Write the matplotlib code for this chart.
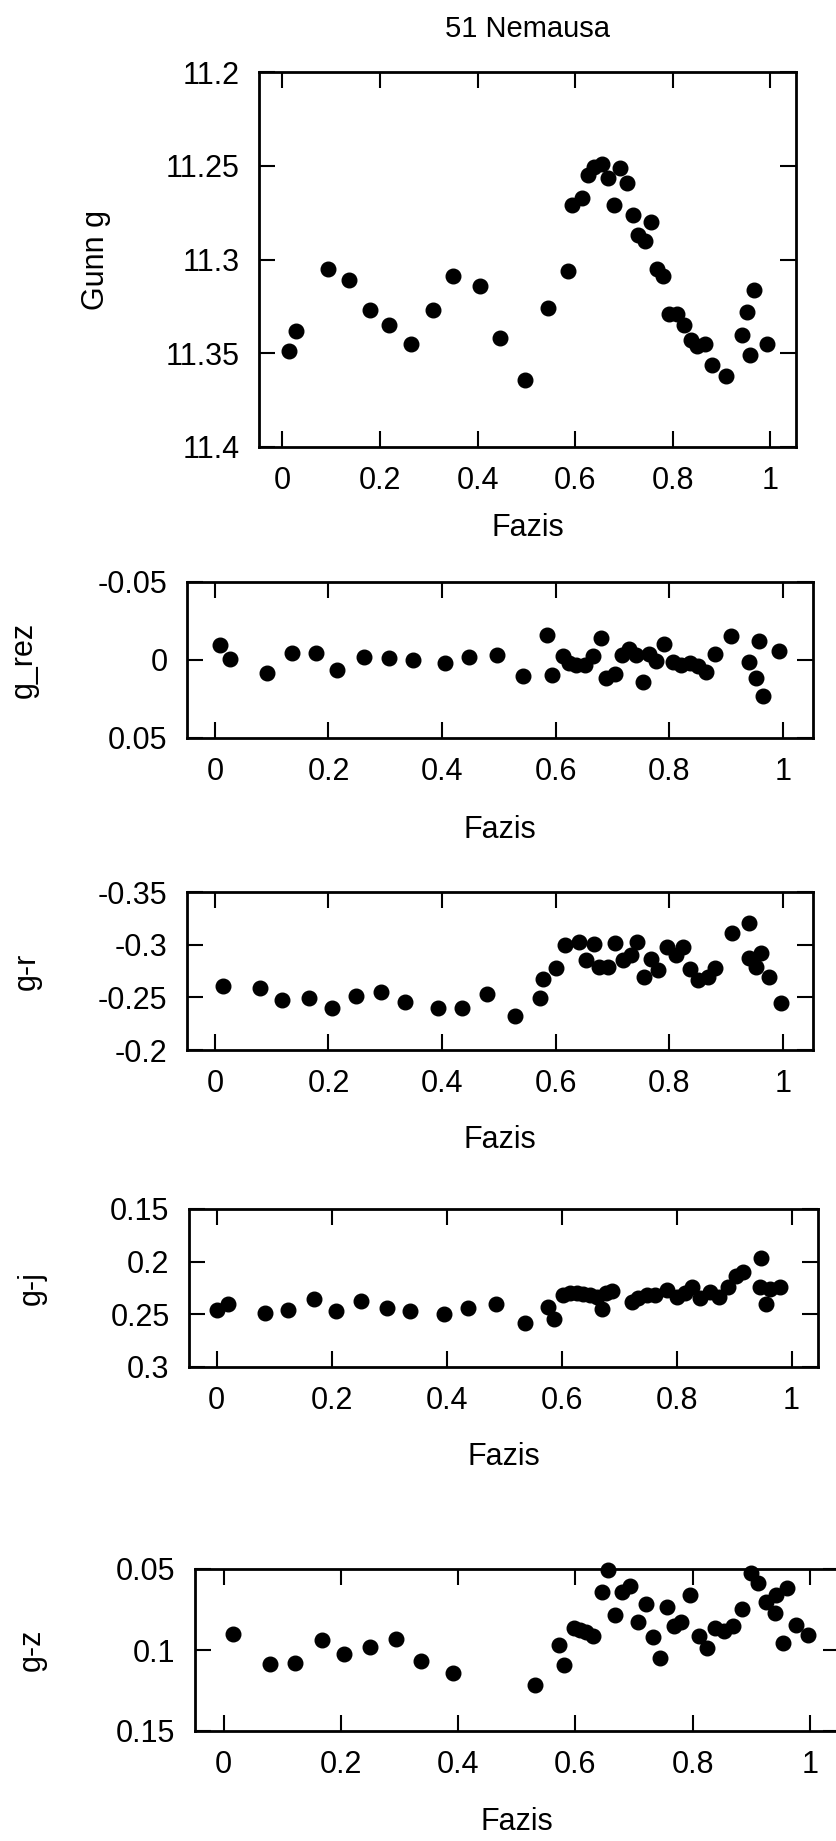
import matplotlib
matplotlib.use("Agg")
import matplotlib.pyplot as plt
from matplotlib.ticker import FuncFormatter

plt.rcParams['font.family'] = ['Liberation Sans', 'DejaVu Sans']
plt.rcParams['axes.unicode_minus'] = False

TITLE = "51 Nemausa"
XLABEL = "Fazis"
XTICKS = [0, 0.2, 0.4, 0.6, 0.8, 1]

# panel 1: Gunn g
gunn_phase = [0.013, 0.027, 0.093, 0.137, 0.180, 0.219, 0.264, 0.308, 0.350, 0.406,
              0.446, 0.498, 0.545, 0.586, 0.594, 0.615, 0.627, 0.639, 0.655, 0.667,
              0.680, 0.692, 0.706, 0.718, 0.730, 0.744, 0.755, 0.768, 0.781, 0.793,
              0.810, 0.824, 0.837, 0.851, 0.867, 0.880, 0.910, 0.942, 0.953, 0.967,
              0.958, 0.994]
gunn_g = [11.349, 11.338, 11.305, 11.311, 11.327, 11.335, 11.345, 11.327, 11.309, 11.314,
          11.342, 11.364, 11.326, 11.306, 11.271, 11.267, 11.255, 11.2505, 11.249, 11.2566,
          11.271, 11.251, 11.259, 11.276, 11.287, 11.290, 11.280, 11.305, 11.309, 11.329,
          11.329, 11.335, 11.343, 11.346, 11.345, 11.356, 11.362, 11.340, 11.328, 11.316,
          11.351, 11.345]

# panel 2: residuals
rez_phase = [0.009, 0.026, 0.091, 0.136, 0.178, 0.215, 0.262, 0.306, 0.349, 0.405,
             0.447, 0.496, 0.542, 0.584, 0.594, 0.613, 0.623, 0.636, 0.651, 0.666,
             0.679, 0.689, 0.705, 0.716, 0.729, 0.741, 0.753, 0.765, 0.777, 0.791,
             0.806, 0.821, 0.836, 0.850, 0.864, 0.880, 0.909, 0.940, 0.958, 0.952,
             0.965, 0.994]
g_rez = [-0.0098, -0.0006, 0.0083, -0.0042, -0.0042, 0.0067, -0.0021, -0.0015, 0.0, 0.002,
         -0.002, -0.003, 0.0105, -0.0158, 0.0094, -0.0027, 0.002, 0.0035, 0.0035, -0.0028,
         -0.014, 0.0115, 0.009, -0.0034, -0.0072, -0.003, 0.0141, -0.0038, 0.0005, -0.0105,
         0.0013, 0.0035, 0.002, 0.004, 0.0077, -0.0038, -0.0151, 0.0013, -0.0124, 0.0115,
         0.0233, -0.0055]

# panel 3: g-r
gr_phase = [0.014, 0.079, 0.119, 0.166, 0.206, 0.248, 0.292, 0.335, 0.393, 0.435,
            0.479, 0.528, 0.572, 0.578, 0.600, 0.616, 0.641, 0.654, 0.667, 0.676,
            0.692, 0.705, 0.718, 0.733, 0.744, 0.755, 0.768, 0.781, 0.796, 0.812,
            0.825, 0.837, 0.850, 0.868, 0.881, 0.910, 0.941, 0.940, 0.952, 0.962,
            0.975, 0.996]
g_r = [-0.261, -0.259, -0.247, -0.249, -0.240, -0.251, -0.255, -0.246, -0.240, -0.240,
       -0.253, -0.2325, -0.249, -0.267, -0.2776, -0.2998, -0.303, -0.2855, -0.3008, -0.279,
       -0.2786, -0.3014, -0.2855, -0.290, -0.303, -0.2696, -0.2865, -0.276, -0.298, -0.290,
       -0.298, -0.277, -0.2665, -0.269, -0.2776, -0.311, -0.3205, -0.2877, -0.279, -0.2925,
       -0.269, -0.245]

# panel 4: g-j
gj_phase = [0.0, 0.019, 0.084, 0.125, 0.170, 0.207, 0.252, 0.296, 0.337, 0.396,
            0.437, 0.486, 0.536, 0.577, 0.587, 0.603, 0.614, 0.626, 0.638, 0.649,
            0.661, 0.671, 0.677, 0.687, 0.722, 0.733, 0.748, 0.762, 0.783, 0.800,
            0.814, 0.826, 0.841, 0.858, 0.874, 0.890, 0.904, 0.916, 0.946, 0.945,
            0.955, 0.962, 0.980]
g_j = [0.246, 0.240, 0.249, 0.246, 0.235, 0.247, 0.237, 0.244, 0.247, 0.250,
       0.244, 0.240, 0.2586, 0.2427, 0.2545, 0.2316, 0.2294, 0.230, 0.2307, 0.2316,
       0.2338, 0.2452, 0.230, 0.2275, 0.238, 0.2348, 0.2316, 0.2316, 0.2269, 0.2338,
       0.230, 0.2243, 0.2348, 0.2285, 0.2338, 0.2243, 0.2135, 0.2094, 0.1967, 0.2237,
       0.240, 0.2262, 0.2243]

# panel 5: g-z
gz_phase = [0.015, 0.0785, 0.121, 0.168, 0.205, 0.249, 0.294, 0.336, 0.392, 0.531,
            0.573, 0.580, 0.598, 0.608, 0.619, 0.630, 0.645, 0.656, 0.668, 0.680,
            0.694, 0.707, 0.720, 0.732, 0.744, 0.757, 0.768, 0.781, 0.796, 0.811,
            0.825, 0.838, 0.853, 0.869, 0.884, 0.899, 0.912, 0.926, 0.940, 0.943,
            0.961, 0.954, 0.976, 0.997]
g_z = [0.0901, 0.1089, 0.1079, 0.0938, 0.1027, 0.0984, 0.0932, 0.1069, 0.1139, 0.1213,
       0.0969, 0.1093, 0.0866, 0.0876, 0.0887, 0.0913, 0.0645, 0.0504, 0.0783, 0.0639,
       0.0608, 0.0825, 0.0715, 0.0922, 0.1052, 0.0732, 0.0852, 0.0825, 0.0659, 0.0913,
       0.099, 0.0866, 0.088, 0.0852, 0.0748, 0.0525, 0.0587, 0.0701, 0.0773, 0.0659,
       0.0618, 0.0955, 0.0845, 0.0907]

W, H = 836, 1841
fig = plt.figure(figsize=(W / 100, H / 100), dpi=100)

fmt = FuncFormatter(lambda v, pos: "%g" % round(v, 6))


def make_panel(rect, xlim, ylim, yticks, ylabel, ylabel_x, xlabel_y, xs, ys):
    # rect in pixels: left, top, right, bottom
    l, t, r, b = rect
    ax = fig.add_axes([l / W, 1 - b / H, (r - l) / W, (b - t) / H])
    ax.plot(xs, ys, 'o', color='black', markersize=10.5, clip_on=False)
    ax.set_xlim(xlim)
    ax.set_ylim(ylim)
    ax.set_xticks(XTICKS)
    ax.set_yticks(yticks)
    ax.xaxis.set_major_formatter(fmt)
    ax.yaxis.set_major_formatter(fmt)
    ax.tick_params(direction='in', length=11.5, width=1.5, labelsize=22,
                   pad=14, top=True, right=True)
    for s in ax.spines.values():
        s.set_linewidth(2)
    ax.set_ylabel(ylabel, fontsize=22)
    ax.yaxis.set_label_coords((ylabel_x - l) / (r - l), 0.5)
    ax.yaxis.label.set_va('center')
    ax.set_xlabel(XLABEL, fontsize=22)
    ax.xaxis.set_label_coords(((l + r) / 2 - l) / (r - l), -(xlabel_y - b) / (b - t))
    ax.xaxis.label.set_va('center')
    return ax


ax1 = make_panel((259, 72, 796, 447), (-0.048, 1.053), (11.4, 11.2),
                 [11.2, 11.25, 11.3, 11.35, 11.4], "Gunn g", 96, 528,
                 gunn_phase, gunn_g)
ax1.set_title(TITLE, fontsize=21, pad=25)

make_panel((187, 582, 813, 738), (-0.049, 1.053), (0.05, -0.05),
           [-0.05, 0, 0.05], "g_rez", 24, 830, rez_phase, g_rez)

make_panel((187, 892, 813, 1050), (-0.049, 1.053), (-0.2, -0.35),
           [-0.35, -0.3, -0.25, -0.2], "g-r", 27, 1140, gr_phase, g_r)

make_panel((189, 1209, 818, 1367), (-0.048, 1.046), (0.3, 0.15),
           [0.15, 0.2, 0.25, 0.3], "g-j", 32, 1457, gj_phase, g_j)

make_panel((195, 1569, 839, 1731), (-0.049, 1.05), (0.15, 0.05),
           [0.05, 0.1, 0.15], "g-z", 32, 1822, gz_phase, g_z)

fig.savefig("out.png", dpi=100)
